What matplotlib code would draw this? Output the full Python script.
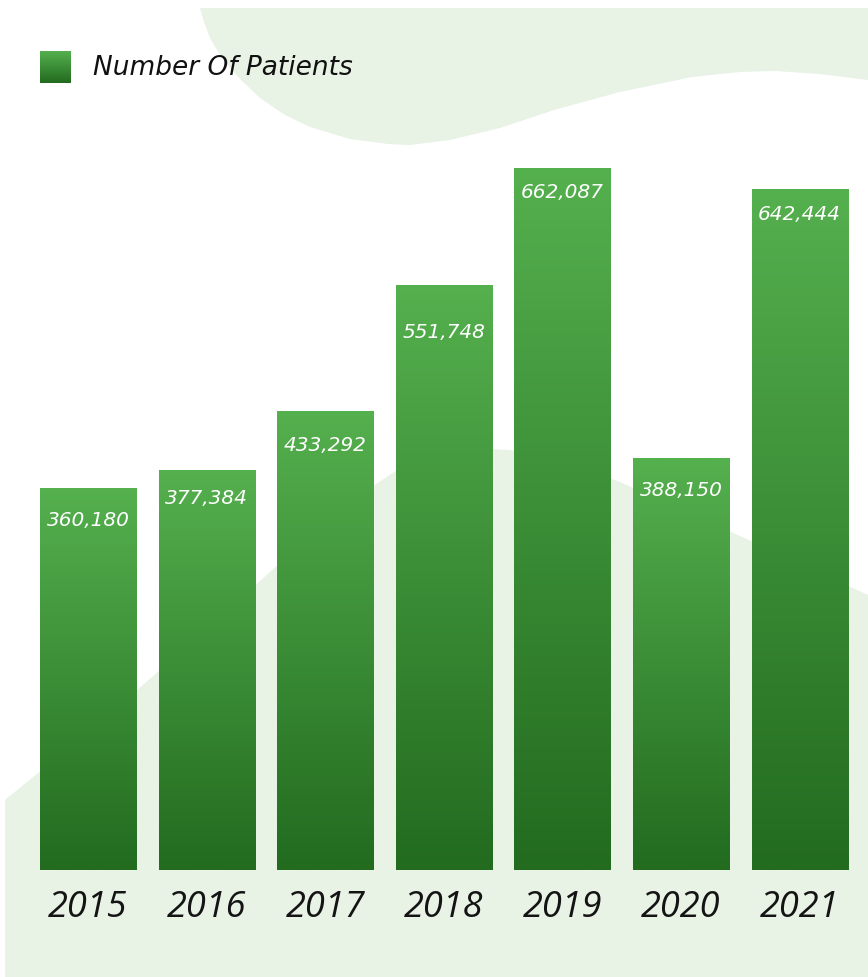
import numpy as np
import matplotlib.pyplot as plt
from matplotlib.patches import Polygon
from matplotlib.colors import LinearSegmentedColormap

# yearly patient counts
years = ['2015', '2016', '2017', '2018', '2019', '2020', '2021']
patients = [360180, 377384, 433292, 551748, 662087, 388150, 642444]
series_name = 'Number Of Patients'

W, H = 868, 977
LIGHT_BG = '#e8f2e5'
green = LinearSegmentedColormap.from_list('green', ['#226b1f', '#55b04e'])
grad = np.linspace(1, 0, 256).reshape(-1, 1)

fig = plt.figure(figsize=(W / 100, H / 100), dpi=100)

# background blobs drawn in pixel space
bg = fig.add_axes([0, 0, 1, 1])
bg.axis('off')
wave = [(200, 8), (204, 22), (210, 38), (222, 58), (238, 77), (260, 98), (285, 115),
        (310, 127), (350, 139), (388, 144), (410, 145), (450, 140), (500, 128),
        (554, 110), (620, 92), (692, 77), (740, 72), (775, 71), (820, 74),
        (868, 80), (868, 8)]
hill = [(5, 977), (5, 800), (60, 755), (120, 705), (200, 635), (300, 545), (360, 495),
        (400, 468), (440, 452), (470, 448), (510, 450), (560, 460), (620, 482),
        (700, 518), (800, 563), (868, 595), (868, 977)]
bg.add_patch(Polygon(wave, closed=True, facecolor=LIGHT_BG, lw=0))
bg.add_patch(Polygon(hill, closed=True, facecolor=LIGHT_BG, lw=0))

# legend swatch + text
bg.imshow(grad, extent=(40, 71, 83, 51), cmap=green, aspect='auto')
bg.text(93, 68, series_name, fontsize=19, style='italic', family='DejaVu Sans',
        color='#111111', va='center', ha='left')
bg.set_xlim(0, W)
bg.set_ylim(H, 0)

# main bar axes, transparent, laid over the background
px = 943  # patients per pixel
ax = fig.add_axes([0, 0, 1, 1])
ax.patch.set_alpha(0)
ax.axis('off')
x = np.arange(len(years))
width = 0.81
bars = ax.bar(x, patients, width, color='none', lw=0)
for b, v in zip(bars, patients):
    im = ax.imshow(grad, extent=(b.get_x(), b.get_x() + width, 0, v),
                   cmap=green, aspect='auto', zorder=2)
    im.set_clip_path(b)

drop = [32, 29, 35, 48, 25, 32, 26]  # label distance below bar top, px
for i, v in enumerate(patients):
    ax.annotate(f'{v:,}', (i, v), xytext=(0, -drop[i]), textcoords='offset pixels',
                ha='center', va='center', color='white', fontsize=14.5,
                style='italic', family='DejaVu Sans', zorder=3)
    ax.annotate(years[i], (i, 0), xytext=(0, -38), textcoords='offset pixels',
                ha='center', va='center', color='#141414', fontsize=26,
                style='italic', family='Open Sans', zorder=3)

ax.set_xlim(-88 / 118.6, (W - 88) / 118.6)
ax.set_ylim(-(H - 870) * px, 870 * px)

fig.savefig('out.png', dpi=100)
